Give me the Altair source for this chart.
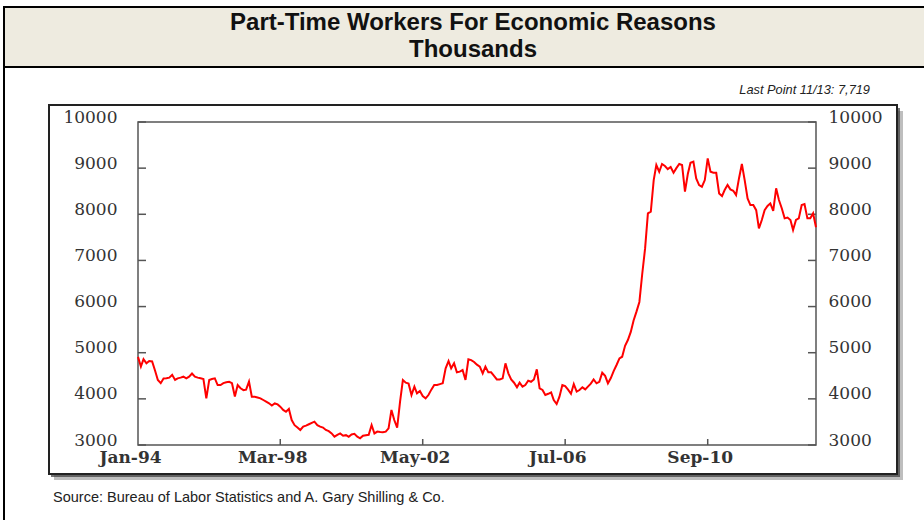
import altair as alt
import pandas as pd

# Monthly levels, thousands of workers (Jan 1994 - Nov 2013)
y1994 = [4910, 4700, 4860, 4770, 4820, 4810, 4620, 4410, 4340, 4440, 4445, 4460]
y1995 = [4520, 4410, 4445, 4460, 4480, 4445, 4480, 4550, 4480, 4460, 4445, 4430]
y1996 = [4010, 4410, 4430, 4445, 4300, 4300, 4340, 4360, 4370, 4340, 4050, 4300]
y1997 = [4230, 4190, 4200, 4373, 4047, 4047, 4030, 4012, 3975, 3939, 3903, 3855]
y1998 = [3900, 3880, 3830, 3760, 3720, 3780, 3540, 3430, 3380, 3325, 3400, 3420]
y1999 = [3450, 3480, 3505, 3430, 3397, 3378, 3325, 3300, 3250, 3180, 3220, 3250]
y2000 = [3200, 3213, 3180, 3228, 3242, 3180, 3144, 3200, 3213, 3220, 3433, 3250]
y2001 = [3290, 3280, 3275, 3290, 3360, 3758, 3542, 3378, 3939, 4408, 4350, 4330]
y2002 = [4083, 4264, 4120, 4170, 4060, 4012, 4083, 4200, 4300, 4300, 4320, 4337]
y2003 = [4662, 4820, 4662, 4770, 4575, 4590, 4625, 4410, 4856, 4840, 4800, 4740]
y2004 = [4700, 4553, 4700, 4575, 4575, 4500, 4420, 4420, 4445, 4770, 4553, 4420]
y2005 = [4350, 4250, 4350, 4264, 4300, 4395, 4370, 4420, 4640, 4228, 4192, 4083]
y2006 = [4110, 4141, 3975, 3888, 4047, 4300, 4278, 4200, 4110, 4320, 4156, 4192]
y2007 = [4250, 4205, 4264, 4330, 4420, 4337, 4370, 4567, 4500, 4337, 4450, 4600]
y2008 = [4734, 4878, 4913, 5150, 5275, 5450, 5700, 5890, 6100, 6700, 7260, 8020]
y2009 = [8056, 8742, 9068, 8922, 9090, 9047, 8980, 9025, 8900, 9000, 9090, 9068]
y2010 = [8490, 8880, 9118, 9140, 8777, 8634, 8597, 8742, 9212, 8922, 8900, 8900]
y2011 = [8453, 8395, 8525, 8634, 8540, 8510, 8417, 8777, 9090, 8742, 8345, 8200]
y2012 = [8200, 8090, 7695, 7876, 8090, 8180, 8235, 8076, 8562, 8308, 8127, 7912]
y2013 = [7930, 7876, 7660, 7876, 7912, 8200, 8220, 7912, 7912, 8020, 7719]

values = (y1994 + y1995 + y1996 + y1997 + y1998 + y1999 + y2000 + y2001 + y2002
          + y2003 + y2004 + y2005 + y2006 + y2007 + y2008 + y2009 + y2010 + y2011
          + y2012 + y2013)
months = pd.date_range("1994-01-01", periods=len(values), freq="MS").strftime("%Y-%m-%d").tolist()

y_tick_values = [3000, 4000, 5000, 6000, 7000, 8000, 9000, 10000]
x_tick_dates = ["1998-03-01", "2002-05-01", "2006-07-01", "2010-09-01"]
x_label_dates = [(1994, 1), (1998, 3), (2002, 5), (2006, 7), (2010, 9)]

title_line1 = "Part-Time Workers For Economic Reasons"
title_line2 = "Thousands"
last_point_note = "Last Point 11/13: 7,719"
source_note = "Source:  Bureau of Labor Statistics and A. Gary Shilling & Co."

# Plot area geometry (page pixels)
PAD_L, PAD_T, PAD_R, PAD_B = 138, 122, 108, 75
W, H = 678, 323

series = pd.DataFrame({"date": months, "value": values})
ytick_df = pd.DataFrame({"value": y_tick_values})
xtick_df = pd.DataFrame({"date": x_tick_dates})

x_scale = alt.Scale(
    type="utc",
    domain=[alt.DateTime(year=1994, month=1, date=1, utc=True),
            alt.DateTime(year=2013, month=11, date=1, utc=True)],
)
y_scale = alt.Scale(domain=[3000, 10000], nice=False, zero=False)

label_font = "DejaVu Serif"
axis_color = "#555555"

x_axis = alt.Axis(
    values=[alt.DateTime(year=y, month=m, date=1, utc=True) for y, m in x_label_dates],
    format="%b-%y", title=None, grid=False, ticks=False, domain=False,
    labelFont=label_font, labelFontSize=17, labelFontWeight="bold", labelColor="#333333",
    labelPadding=4, labelOffset=-8, labelFlush=False, labelOverlap=False,
    labelBaseline="top", zindex=1,
)
y_axis_left = alt.Axis(
    orient="left", values=y_tick_values, format="d", title=None, grid=False, ticks=False,
    domain=False, labelFont=label_font, labelFontSize=17, labelColor="#333333",
    labelPadding=21, labelAlign="right", labelBaseline="alphabetic", labelOverlap=False,
    zindex=1,
)
y_axis_right = alt.Axis(
    orient="right", values=y_tick_values, format="d", title=None, grid=False, ticks=False,
    domain=False, labelFont=label_font, labelFontSize=17, labelColor="#333333",
    labelPadding=12, labelAlign="left", labelBaseline="alphabetic", labelOverlap=False,
    zindex=1,
)

one = alt.Data(values=[{}])


def box(x0, y0, x1, y1, **style):
    """Rectangle given in page pixels."""
    return alt.Chart(one).mark_rect(**style).encode(
        x=alt.value(x0 - PAD_L), x2=alt.value(x1 - PAD_L),
        y=alt.value(y0 - PAD_T), y2=alt.value(y1 - PAD_T),
    )


def label(text, x, y, **style):
    """Free text placed in page pixels (alphabetic baseline)."""
    return alt.Chart(one).mark_text(text=text, baseline="alphabetic", **style).encode(
        x=alt.value(x - PAD_L), y=alt.value(y - PAD_T)
    )


outer_frame = box(4, 7, 940, 540, fillOpacity=0, stroke="#000000", strokeWidth=2)
title_band = box(4, 7, 940, 67, fill="#EEEBE0", stroke="#000000", strokeWidth=2)
shadow_far = box(54, 111, 903, 480, fill="#444444", opacity=0.35)
shadow_near = box(51, 108, 900, 477, fill="#3a3a3a", opacity=0.7)
panel = box(49, 105, 897, 474, fill="#FFFFFF", stroke="#222222", strokeWidth=2)
plot_frame = box(PAD_L, PAD_T, PAD_L + W, PAD_T + H, fillOpacity=0,
                 stroke=axis_color, strokeWidth=1.5)

left_ticks = alt.Chart(ytick_df).mark_rule(color=axis_color, strokeWidth=1.5).encode(
    y=alt.Y("value:Q", scale=y_scale, axis=None), x=alt.value(0), x2=alt.value(8)
)
right_ticks = alt.Chart(ytick_df).mark_rule(color=axis_color, strokeWidth=1.5).encode(
    y=alt.Y("value:Q", scale=y_scale, axis=y_axis_right), x=alt.value(W - 8), x2=alt.value(W)
)
bottom_ticks = alt.Chart(xtick_df).mark_rule(color=axis_color, strokeWidth=1.5).encode(
    x=alt.X("date:T", scale=x_scale, axis=None), y=alt.value(H - 6), y2=alt.value(H)
)

line = alt.Chart(series).mark_line(color="#FF0000", strokeWidth=2).encode(
    x=alt.X("date:T", scale=x_scale, axis=x_axis),
    y=alt.Y("value:Q", scale=y_scale, axis=y_axis_left),
)

sans = "Liberation Sans"
texts = [
    label(title_line1, 473, 30, align="center", font=sans, fontSize=24, fontWeight="bold", color="#111111"),
    label(title_line2, 473, 57, align="center", font=sans, fontSize=24, fontWeight="bold", color="#111111"),
    label(last_point_note, 870, 94, align="right", font=sans, fontSize=12.8, fontStyle="italic", color="#222222"),
    label(source_note, 53, 502, align="left", font=sans, fontSize=14.5, color="#222222"),
]

chart = alt.layer(
    outer_frame, title_band, shadow_far, shadow_near, panel, plot_frame,
    left_ticks, right_ticks, bottom_ticks, line, *texts,
).resolve_scale(
    x="shared", y="shared"
).resolve_axis(
    x="independent", y="independent"
).properties(
    width=W, height=H,
    autosize=alt.AutoSizeParams(type="none"),
    padding={"left": PAD_L, "top": PAD_T, "right": PAD_R, "bottom": PAD_B},
    background="#FFFFFF",
).configure_view(stroke="transparent")

chart.save("out.html", embed_options={"renderer": "svg", "actions": False})
